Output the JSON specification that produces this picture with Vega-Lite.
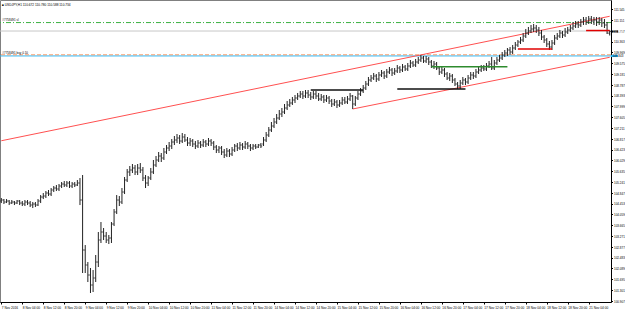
{
"$schema":"https://vega.github.io/schema/vega-lite/v6.json",
"width":611,"height":302,
"autosize":{"type":"none"},
"padding":{"left":0,"top":0,"right":14,"bottom":7},
"background":"white",
"config":{"view":{"stroke":"#808080","strokeWidth":1},"font":"Liberation Sans"},
"title":{"text":"■ USDJPY,H1  110.672 110.780 110.588 110.734","anchor":"start","frame":"group","orient":"top","offset":-6,"fontSize":3.2,"fontWeight":"normal","color":"#000","font":"Liberation Sans","dx":2},
"datasets":{
"bars":[
{"t":"7 Nov 20:00","o":104.547,"h":104.657,"l":104.474,"c":104.584},
{"t":"7 Nov 21:00","o":104.584,"h":104.620,"l":104.438,"c":104.511},
{"t":"7 Nov 22:00","o":104.511,"h":104.620,"l":104.474,"c":104.547},
{"t":"7 Nov 23:00","o":104.547,"h":104.584,"l":104.401,"c":104.474},
{"t":"8 Nov 00:00","o":104.474,"h":104.584,"l":104.438,"c":104.511},
{"t":"8 Nov 01:00","o":104.511,"h":104.547,"l":104.401,"c":104.474},
{"t":"8 Nov 02:00","o":104.474,"h":104.584,"l":104.438,"c":104.547},
{"t":"8 Nov 03:00","o":104.547,"h":104.584,"l":104.401,"c":104.474},
{"t":"8 Nov 04:00","o":104.474,"h":104.547,"l":104.365,"c":104.438},
{"t":"8 Nov 05:00","o":104.438,"h":104.584,"l":104.365,"c":104.511},
{"t":"8 Nov 06:00","o":104.511,"h":104.584,"l":104.401,"c":104.474},
{"t":"8 Nov 07:00","o":104.474,"h":104.547,"l":104.328,"c":104.401},
{"t":"8 Nov 08:00","o":104.401,"h":104.511,"l":104.292,"c":104.438},
{"t":"8 Nov 09:00","o":104.438,"h":104.511,"l":104.328,"c":104.401},
{"t":"8 Nov 10:00","o":104.401,"h":104.620,"l":104.365,"c":104.547},
{"t":"8 Nov 11:00","o":104.547,"h":104.766,"l":104.474,"c":104.693},
{"t":"8 Nov 12:00","o":104.693,"h":104.839,"l":104.620,"c":104.730},
{"t":"8 Nov 13:00","o":104.730,"h":104.912,"l":104.657,"c":104.839},
{"t":"8 Nov 14:00","o":104.839,"h":104.949,"l":104.730,"c":104.803},
{"t":"8 Nov 15:00","o":104.803,"h":105.022,"l":104.730,"c":104.949},
{"t":"8 Nov 16:00","o":104.949,"h":105.095,"l":104.876,"c":105.022},
{"t":"8 Nov 17:00","o":105.022,"h":105.131,"l":104.912,"c":104.985},
{"t":"8 Nov 18:00","o":104.985,"h":105.168,"l":104.912,"c":105.095},
{"t":"8 Nov 19:00","o":105.095,"h":105.241,"l":105.022,"c":105.168},
{"t":"8 Nov 20:00","o":105.168,"h":105.277,"l":105.058,"c":105.131},
{"t":"8 Nov 21:00","o":105.131,"h":105.277,"l":105.058,"c":105.204},
{"t":"8 Nov 22:00","o":105.204,"h":105.277,"l":105.022,"c":105.095},
{"t":"8 Nov 23:00","o":105.095,"h":105.241,"l":105.022,"c":105.168},
{"t":"9 Nov 00:00","o":105.168,"h":105.241,"l":105.058,"c":105.131},
{"t":"9 Nov 01:00","o":105.131,"h":105.314,"l":105.095,"c":105.204},
{"t":"9 Nov 02:00","o":105.204,"h":105.387,"l":104.401,"c":104.584},
{"t":"9 Nov 03:00","o":104.584,"h":105.496,"l":101.920,"c":102.759},
{"t":"9 Nov 04:00","o":102.759,"h":102.941,"l":101.920,"c":102.212},
{"t":"9 Nov 05:00","o":102.212,"h":102.321,"l":101.591,"c":101.847},
{"t":"9 Nov 06:00","o":101.847,"h":102.102,"l":101.190,"c":101.482},
{"t":"9 Nov 07:00","o":101.482,"h":102.029,"l":101.226,"c":101.737},
{"t":"9 Nov 08:00","o":101.737,"h":102.577,"l":101.591,"c":102.321},
{"t":"9 Nov 09:00","o":102.321,"h":103.416,"l":102.139,"c":103.124},
{"t":"9 Nov 10:00","o":103.124,"h":103.781,"l":103.015,"c":103.416},
{"t":"9 Nov 11:00","o":103.416,"h":103.562,"l":103.124,"c":103.270},
{"t":"9 Nov 12:00","o":103.270,"h":103.416,"l":103.015,"c":103.124},
{"t":"9 Nov 13:00","o":103.124,"h":103.307,"l":102.978,"c":103.197},
{"t":"9 Nov 14:00","o":103.197,"h":103.781,"l":103.015,"c":103.708},
{"t":"9 Nov 15:00","o":103.708,"h":104.255,"l":103.635,"c":104.146},
{"t":"9 Nov 16:00","o":104.146,"h":104.766,"l":104.073,"c":104.584},
{"t":"9 Nov 17:00","o":104.584,"h":104.730,"l":104.365,"c":104.511},
{"t":"9 Nov 18:00","o":104.511,"h":105.022,"l":104.438,"c":104.876},
{"t":"9 Nov 19:00","o":104.876,"h":105.423,"l":104.803,"c":105.314},
{"t":"9 Nov 20:00","o":105.314,"h":105.715,"l":105.241,"c":105.606},
{"t":"9 Nov 21:00","o":105.606,"h":105.825,"l":105.460,"c":105.679},
{"t":"9 Nov 22:00","o":105.679,"h":105.898,"l":105.569,"c":105.752},
{"t":"9 Nov 23:00","o":105.752,"h":105.861,"l":105.496,"c":105.606},
{"t":"10 Nov 00:00","o":105.606,"h":105.898,"l":105.496,"c":105.752},
{"t":"10 Nov 01:00","o":105.752,"h":105.934,"l":105.569,"c":105.679},
{"t":"10 Nov 02:00","o":105.679,"h":105.788,"l":105.277,"c":105.387},
{"t":"10 Nov 03:00","o":105.387,"h":105.496,"l":105.022,"c":105.204},
{"t":"10 Nov 04:00","o":105.204,"h":105.460,"l":105.095,"c":105.387},
{"t":"10 Nov 05:00","o":105.387,"h":105.752,"l":105.314,"c":105.606},
{"t":"10 Nov 06:00","o":105.606,"h":106.044,"l":105.533,"c":105.861},
{"t":"10 Nov 07:00","o":105.861,"h":106.190,"l":105.788,"c":106.044},
{"t":"10 Nov 08:00","o":106.044,"h":106.336,"l":105.971,"c":106.190},
{"t":"10 Nov 09:00","o":106.190,"h":106.299,"l":105.971,"c":106.117},
{"t":"10 Nov 10:00","o":106.117,"h":106.482,"l":106.044,"c":106.336},
{"t":"10 Nov 11:00","o":106.336,"h":106.591,"l":106.263,"c":106.482},
{"t":"10 Nov 12:00","o":106.482,"h":106.701,"l":106.372,"c":106.555},
{"t":"10 Nov 13:00","o":106.555,"h":106.810,"l":106.445,"c":106.701},
{"t":"10 Nov 14:00","o":106.701,"h":106.920,"l":106.591,"c":106.774},
{"t":"10 Nov 15:00","o":106.774,"h":106.993,"l":106.664,"c":106.847},
{"t":"10 Nov 16:00","o":106.847,"h":106.956,"l":106.628,"c":106.737},
{"t":"10 Nov 17:00","o":106.737,"h":107.029,"l":106.664,"c":106.883},
{"t":"10 Nov 18:00","o":106.883,"h":106.993,"l":106.701,"c":106.774},
{"t":"10 Nov 19:00","o":106.774,"h":106.883,"l":106.555,"c":106.664},
{"t":"10 Nov 20:00","o":106.664,"h":106.847,"l":106.555,"c":106.737},
{"t":"10 Nov 21:00","o":106.737,"h":106.810,"l":106.518,"c":106.628},
{"t":"10 Nov 22:00","o":106.628,"h":106.737,"l":106.445,"c":106.555},
{"t":"10 Nov 23:00","o":106.555,"h":106.774,"l":106.482,"c":106.664},
{"t":"11 Nov 00:00","o":106.664,"h":106.737,"l":106.482,"c":106.591},
{"t":"11 Nov 01:00","o":106.591,"h":106.810,"l":106.518,"c":106.701},
{"t":"11 Nov 02:00","o":106.701,"h":106.774,"l":106.518,"c":106.628},
{"t":"11 Nov 03:00","o":106.628,"h":106.847,"l":106.555,"c":106.737},
{"t":"11 Nov 04:00","o":106.737,"h":106.810,"l":106.555,"c":106.664},
{"t":"11 Nov 05:00","o":106.664,"h":106.737,"l":106.409,"c":106.518},
{"t":"11 Nov 06:00","o":106.518,"h":106.591,"l":106.299,"c":106.409},
{"t":"11 Nov 07:00","o":106.409,"h":106.555,"l":106.299,"c":106.482},
{"t":"11 Nov 08:00","o":106.482,"h":106.555,"l":106.226,"c":106.336},
{"t":"11 Nov 09:00","o":106.336,"h":106.445,"l":106.117,"c":106.226},
{"t":"11 Nov 10:00","o":106.226,"h":106.482,"l":106.153,"c":106.372},
{"t":"11 Nov 11:00","o":106.372,"h":106.445,"l":106.153,"c":106.263},
{"t":"11 Nov 12:00","o":106.263,"h":106.518,"l":106.190,"c":106.409},
{"t":"11 Nov 13:00","o":106.409,"h":106.628,"l":106.336,"c":106.555},
{"t":"11 Nov 14:00","o":106.555,"h":106.664,"l":106.372,"c":106.482},
{"t":"11 Nov 15:00","o":106.482,"h":106.701,"l":106.409,"c":106.591},
{"t":"11 Nov 16:00","o":106.591,"h":106.664,"l":106.409,"c":106.518},
{"t":"11 Nov 17:00","o":106.518,"h":106.737,"l":106.445,"c":106.628},
{"t":"11 Nov 18:00","o":106.628,"h":106.701,"l":106.445,"c":106.555},
{"t":"11 Nov 19:00","o":106.555,"h":106.628,"l":106.372,"c":106.482},
{"t":"11 Nov 20:00","o":106.482,"h":106.628,"l":106.409,"c":106.555},
{"t":"11 Nov 21:00","o":106.555,"h":106.628,"l":106.445,"c":106.518},
{"t":"11 Nov 22:00","o":106.518,"h":106.628,"l":106.482,"c":106.591},
{"t":"11 Nov 23:00","o":106.591,"h":106.664,"l":106.482,"c":106.555},
{"t":"14 Nov 00:00","o":106.628,"h":106.883,"l":106.555,"c":106.774},
{"t":"14 Nov 01:00","o":106.774,"h":107.066,"l":106.701,"c":106.956},
{"t":"14 Nov 02:00","o":106.956,"h":107.248,"l":106.883,"c":107.139},
{"t":"14 Nov 03:00","o":107.139,"h":107.431,"l":107.066,"c":107.285},
{"t":"14 Nov 04:00","o":107.285,"h":107.577,"l":107.212,"c":107.431},
{"t":"14 Nov 05:00","o":107.431,"h":107.723,"l":107.358,"c":107.577},
{"t":"14 Nov 06:00","o":107.577,"h":107.869,"l":107.504,"c":107.723},
{"t":"14 Nov 07:00","o":107.723,"h":107.942,"l":107.613,"c":107.796},
{"t":"14 Nov 08:00","o":107.796,"h":108.088,"l":107.723,"c":107.942},
{"t":"14 Nov 09:00","o":107.942,"h":108.198,"l":107.869,"c":108.052},
{"t":"14 Nov 10:00","o":108.052,"h":108.271,"l":107.979,"c":108.125},
{"t":"14 Nov 11:00","o":108.125,"h":108.344,"l":108.052,"c":108.234},
{"t":"14 Nov 12:00","o":108.234,"h":108.417,"l":108.125,"c":108.307},
{"t":"14 Nov 13:00","o":108.307,"h":108.490,"l":108.234,"c":108.380},
{"t":"14 Nov 14:00","o":108.380,"h":108.563,"l":108.307,"c":108.453},
{"t":"14 Nov 15:00","o":108.453,"h":108.563,"l":108.271,"c":108.380},
{"t":"14 Nov 16:00","o":108.380,"h":108.599,"l":108.307,"c":108.490},
{"t":"14 Nov 17:00","o":108.490,"h":108.599,"l":108.307,"c":108.417},
{"t":"14 Nov 18:00","o":108.417,"h":108.526,"l":108.234,"c":108.344},
{"t":"14 Nov 19:00","o":108.344,"h":108.563,"l":108.271,"c":108.453},
{"t":"14 Nov 20:00","o":108.453,"h":108.563,"l":108.271,"c":108.380},
{"t":"14 Nov 21:00","o":108.380,"h":108.490,"l":108.198,"c":108.271},
{"t":"14 Nov 22:00","o":108.271,"h":108.453,"l":108.198,"c":108.344},
{"t":"14 Nov 23:00","o":108.344,"h":108.417,"l":108.125,"c":108.234},
{"t":"15 Nov 00:00","o":108.234,"h":108.417,"l":108.161,"c":108.307},
{"t":"15 Nov 01:00","o":108.307,"h":108.380,"l":108.088,"c":108.198},
{"t":"15 Nov 02:00","o":108.198,"h":108.271,"l":107.979,"c":108.088},
{"t":"15 Nov 03:00","o":108.088,"h":108.271,"l":108.015,"c":108.161},
{"t":"15 Nov 04:00","o":108.161,"h":108.234,"l":107.942,"c":108.052},
{"t":"15 Nov 05:00","o":108.052,"h":108.234,"l":107.979,"c":108.125},
{"t":"15 Nov 06:00","o":108.125,"h":108.344,"l":108.052,"c":108.234},
{"t":"15 Nov 07:00","o":108.234,"h":108.344,"l":108.088,"c":108.161},
{"t":"15 Nov 08:00","o":108.161,"h":108.380,"l":108.088,"c":108.271},
{"t":"15 Nov 09:00","o":108.271,"h":108.490,"l":108.198,"c":108.380},
{"t":"15 Nov 10:00","o":108.380,"h":108.417,"l":107.906,"c":108.088},
{"t":"15 Nov 11:00","o":108.088,"h":108.380,"l":108.015,"c":108.307},
{"t":"15 Nov 12:00","o":108.307,"h":108.563,"l":108.234,"c":108.453},
{"t":"15 Nov 13:00","o":108.453,"h":108.672,"l":108.380,"c":108.563},
{"t":"15 Nov 14:00","o":108.563,"h":108.782,"l":108.490,"c":108.672},
{"t":"15 Nov 15:00","o":108.672,"h":108.928,"l":108.599,"c":108.818},
{"t":"15 Nov 16:00","o":108.818,"h":109.074,"l":108.745,"c":108.964},
{"t":"15 Nov 17:00","o":108.964,"h":109.147,"l":108.891,"c":109.037},
{"t":"15 Nov 18:00","o":109.037,"h":109.220,"l":108.964,"c":109.110},
{"t":"15 Nov 19:00","o":109.110,"h":109.183,"l":108.891,"c":109.001},
{"t":"15 Nov 20:00","o":109.001,"h":109.256,"l":108.928,"c":109.147},
{"t":"15 Nov 21:00","o":109.147,"h":109.329,"l":109.074,"c":109.220},
{"t":"15 Nov 22:00","o":109.220,"h":109.293,"l":109.001,"c":109.110},
{"t":"15 Nov 23:00","o":109.110,"h":109.366,"l":109.037,"c":109.256},
{"t":"16 Nov 00:00","o":109.256,"h":109.439,"l":109.183,"c":109.329},
{"t":"16 Nov 01:00","o":109.329,"h":109.402,"l":109.110,"c":109.220},
{"t":"16 Nov 02:00","o":109.220,"h":109.402,"l":109.147,"c":109.293},
{"t":"16 Nov 03:00","o":109.293,"h":109.512,"l":109.220,"c":109.402},
{"t":"16 Nov 04:00","o":109.402,"h":109.475,"l":109.220,"c":109.329},
{"t":"16 Nov 05:00","o":109.329,"h":109.548,"l":109.256,"c":109.439},
{"t":"16 Nov 06:00","o":109.439,"h":109.512,"l":109.293,"c":109.366},
{"t":"16 Nov 07:00","o":109.366,"h":109.585,"l":109.293,"c":109.475},
{"t":"16 Nov 08:00","o":109.475,"h":109.694,"l":109.402,"c":109.585},
{"t":"16 Nov 09:00","o":109.585,"h":109.658,"l":109.439,"c":109.512},
{"t":"16 Nov 10:00","o":109.512,"h":109.731,"l":109.439,"c":109.621},
{"t":"16 Nov 11:00","o":109.621,"h":109.804,"l":109.548,"c":109.694},
{"t":"16 Nov 12:00","o":109.694,"h":109.877,"l":109.621,"c":109.767},
{"t":"16 Nov 13:00","o":109.767,"h":109.840,"l":109.585,"c":109.658},
{"t":"16 Nov 14:00","o":109.658,"h":109.840,"l":109.585,"c":109.731},
{"t":"16 Nov 15:00","o":109.731,"h":109.804,"l":109.512,"c":109.621},
{"t":"16 Nov 16:00","o":109.621,"h":109.694,"l":109.402,"c":109.475},
{"t":"16 Nov 17:00","o":109.475,"h":109.658,"l":109.366,"c":109.548},
{"t":"16 Nov 18:00","o":109.548,"h":109.621,"l":109.329,"c":109.402},
{"t":"16 Nov 19:00","o":109.402,"h":109.475,"l":109.147,"c":109.256},
{"t":"16 Nov 20:00","o":109.256,"h":109.439,"l":109.183,"c":109.329},
{"t":"16 Nov 21:00","o":109.329,"h":109.402,"l":109.074,"c":109.183},
{"t":"16 Nov 22:00","o":109.183,"h":109.256,"l":108.964,"c":109.037},
{"t":"16 Nov 23:00","o":109.037,"h":109.220,"l":108.928,"c":109.110},
{"t":"17 Nov 00:00","o":109.110,"h":109.183,"l":108.855,"c":108.964},
{"t":"17 Nov 01:00","o":108.964,"h":109.037,"l":108.745,"c":108.818},
{"t":"17 Nov 02:00","o":108.818,"h":108.891,"l":108.636,"c":108.745},
{"t":"17 Nov 03:00","o":108.745,"h":108.964,"l":108.636,"c":108.855},
{"t":"17 Nov 04:00","o":108.855,"h":109.074,"l":108.782,"c":108.964},
{"t":"17 Nov 05:00","o":108.964,"h":109.037,"l":108.782,"c":108.891},
{"t":"17 Nov 06:00","o":108.891,"h":109.147,"l":108.818,"c":109.037},
{"t":"17 Nov 07:00","o":109.037,"h":109.256,"l":108.964,"c":109.147},
{"t":"17 Nov 08:00","o":109.147,"h":109.256,"l":109.001,"c":109.110},
{"t":"17 Nov 09:00","o":109.110,"h":109.366,"l":109.037,"c":109.256},
{"t":"17 Nov 10:00","o":109.256,"h":109.439,"l":109.183,"c":109.329},
{"t":"17 Nov 11:00","o":109.329,"h":109.512,"l":109.256,"c":109.402},
{"t":"17 Nov 12:00","o":109.402,"h":109.512,"l":109.293,"c":109.366},
{"t":"17 Nov 13:00","o":109.366,"h":109.585,"l":109.293,"c":109.475},
{"t":"17 Nov 14:00","o":109.475,"h":109.658,"l":109.402,"c":109.548},
{"t":"17 Nov 15:00","o":109.548,"h":109.804,"l":109.329,"c":109.402},
{"t":"17 Nov 16:00","o":109.402,"h":109.694,"l":109.329,"c":109.585},
{"t":"17 Nov 17:00","o":109.585,"h":109.804,"l":109.512,"c":109.694},
{"t":"17 Nov 18:00","o":109.694,"h":109.877,"l":109.621,"c":109.767},
{"t":"17 Nov 19:00","o":109.767,"h":109.986,"l":109.694,"c":109.877},
{"t":"17 Nov 20:00","o":109.877,"h":110.059,"l":109.804,"c":109.950},
{"t":"17 Nov 21:00","o":109.950,"h":110.132,"l":109.840,"c":110.059},
{"t":"17 Nov 22:00","o":110.059,"h":110.169,"l":109.877,"c":109.986},
{"t":"17 Nov 23:00","o":109.986,"h":110.242,"l":109.913,"c":110.132},
{"t":"18 Nov 00:00","o":110.132,"h":110.351,"l":110.059,"c":110.242},
{"t":"18 Nov 01:00","o":110.242,"h":110.424,"l":110.169,"c":110.351},
{"t":"18 Nov 02:00","o":110.351,"h":110.534,"l":110.278,"c":110.424},
{"t":"18 Nov 03:00","o":110.424,"h":110.680,"l":110.351,"c":110.570},
{"t":"18 Nov 04:00","o":110.570,"h":110.826,"l":110.497,"c":110.680},
{"t":"18 Nov 05:00","o":110.680,"h":110.899,"l":110.607,"c":110.753},
{"t":"18 Nov 06:00","o":110.753,"h":110.972,"l":110.680,"c":110.826},
{"t":"18 Nov 07:00","o":110.826,"h":111.008,"l":110.716,"c":110.862},
{"t":"18 Nov 08:00","o":110.862,"h":110.972,"l":110.680,"c":110.789},
{"t":"18 Nov 09:00","o":110.789,"h":110.899,"l":110.570,"c":110.680},
{"t":"18 Nov 10:00","o":110.680,"h":110.789,"l":110.424,"c":110.534},
{"t":"18 Nov 11:00","o":110.534,"h":110.607,"l":110.315,"c":110.424},
{"t":"18 Nov 12:00","o":110.424,"h":110.497,"l":110.169,"c":110.278},
{"t":"18 Nov 13:00","o":110.278,"h":110.388,"l":110.059,"c":110.169},
{"t":"18 Nov 14:00","o":110.169,"h":110.424,"l":110.059,"c":110.315},
{"t":"18 Nov 15:00","o":110.315,"h":110.607,"l":110.242,"c":110.497},
{"t":"18 Nov 16:00","o":110.497,"h":110.680,"l":110.424,"c":110.570},
{"t":"18 Nov 17:00","o":110.570,"h":110.789,"l":110.497,"c":110.680},
{"t":"18 Nov 18:00","o":110.680,"h":110.753,"l":110.497,"c":110.607},
{"t":"18 Nov 19:00","o":110.607,"h":110.862,"l":110.534,"c":110.716},
{"t":"18 Nov 20:00","o":110.716,"h":110.899,"l":110.643,"c":110.789},
{"t":"18 Nov 21:00","o":110.789,"h":110.972,"l":110.716,"c":110.862},
{"t":"18 Nov 22:00","o":110.862,"h":111.081,"l":110.789,"c":110.935},
{"t":"18 Nov 23:00","o":110.935,"h":111.118,"l":110.862,"c":111.008},
{"t":"21 Nov 00:00","o":111.008,"h":111.118,"l":110.862,"c":110.972},
{"t":"21 Nov 01:00","o":110.972,"h":111.191,"l":110.899,"c":111.081},
{"t":"21 Nov 02:00","o":111.081,"h":111.264,"l":110.972,"c":111.154},
{"t":"21 Nov 03:00","o":111.154,"h":111.264,"l":110.972,"c":111.081},
{"t":"21 Nov 04:00","o":111.081,"h":111.300,"l":111.008,"c":111.191},
{"t":"21 Nov 05:00","o":111.191,"h":111.300,"l":111.008,"c":111.118},
{"t":"21 Nov 06:00","o":111.118,"h":111.264,"l":110.972,"c":111.154},
{"t":"21 Nov 07:00","o":111.154,"h":111.264,"l":110.935,"c":111.081},
{"t":"21 Nov 08:00","o":111.081,"h":111.264,"l":110.972,"c":111.154},
{"t":"21 Nov 09:00","o":111.154,"h":111.227,"l":110.899,"c":111.045},
{"t":"21 Nov 10:00","o":111.045,"h":111.191,"l":110.862,"c":110.972},
{"t":"21 Nov 11:00","o":110.972,"h":111.081,"l":110.643,"c":110.680},
{"t":"21 Nov 12:00","o":110.672,"h":110.780,"l":110.588,"c":110.734}
],
"trend":[
{"t1":"7 Nov 20:00","p1":106.747,"t2":"21 Nov 12:00","p2":111.29},
{"t1":"15 Nov 10:00","p1":107.906,"t2":"21 Nov 12:00","p2":109.793}
],
"blackseg":[
{"t1":"14 Nov 18:00","t2":"15 Nov 14:00","p":108.599},
{"t1":"16 Nov 03:00","t2":"17 Nov 05:00","p":108.636}
],
"redseg":[
{"t1":"18 Nov 01:00","t2":"18 Nov 14:00","p":110.096},
{"t1":"21 Nov 03:00","t2":"21 Nov 12:00","p":110.77}
],
"greenseg":[
{"t1":"16 Nov 16:00","t2":"17 Nov 21:00","p":109.45}
],
"orders":[
{"p":111.06,"lab":"#7758491 sl"},
{"p":109.885,"lab":"#7758491 buy 0.10"}
]
},
"encoding":{
"x":{"field":"t","type":"ordinal","sort":null,
"scale":{"type":"point","padding":0.5,"domain":["7 Nov 20:00","7 Nov 21:00","7 Nov 22:00","7 Nov 23:00",
"8 Nov 00:00","8 Nov 01:00","8 Nov 02:00","8 Nov 03:00","8 Nov 04:00","8 Nov 05:00","8 Nov 06:00","8 Nov 07:00","8 Nov 08:00","8 Nov 09:00","8 Nov 10:00","8 Nov 11:00","8 Nov 12:00","8 Nov 13:00","8 Nov 14:00","8 Nov 15:00","8 Nov 16:00","8 Nov 17:00","8 Nov 18:00","8 Nov 19:00","8 Nov 20:00","8 Nov 21:00","8 Nov 22:00","8 Nov 23:00",
"9 Nov 00:00","9 Nov 01:00","9 Nov 02:00","9 Nov 03:00","9 Nov 04:00","9 Nov 05:00","9 Nov 06:00","9 Nov 07:00","9 Nov 08:00","9 Nov 09:00","9 Nov 10:00","9 Nov 11:00","9 Nov 12:00","9 Nov 13:00","9 Nov 14:00","9 Nov 15:00","9 Nov 16:00","9 Nov 17:00","9 Nov 18:00","9 Nov 19:00","9 Nov 20:00","9 Nov 21:00","9 Nov 22:00","9 Nov 23:00",
"10 Nov 00:00","10 Nov 01:00","10 Nov 02:00","10 Nov 03:00","10 Nov 04:00","10 Nov 05:00","10 Nov 06:00","10 Nov 07:00","10 Nov 08:00","10 Nov 09:00","10 Nov 10:00","10 Nov 11:00","10 Nov 12:00","10 Nov 13:00","10 Nov 14:00","10 Nov 15:00","10 Nov 16:00","10 Nov 17:00","10 Nov 18:00","10 Nov 19:00","10 Nov 20:00","10 Nov 21:00","10 Nov 22:00","10 Nov 23:00",
"11 Nov 00:00","11 Nov 01:00","11 Nov 02:00","11 Nov 03:00","11 Nov 04:00","11 Nov 05:00","11 Nov 06:00","11 Nov 07:00","11 Nov 08:00","11 Nov 09:00","11 Nov 10:00","11 Nov 11:00","11 Nov 12:00","11 Nov 13:00","11 Nov 14:00","11 Nov 15:00","11 Nov 16:00","11 Nov 17:00","11 Nov 18:00","11 Nov 19:00","11 Nov 20:00","11 Nov 21:00","11 Nov 22:00","11 Nov 23:00",
"14 Nov 00:00","14 Nov 01:00","14 Nov 02:00","14 Nov 03:00","14 Nov 04:00","14 Nov 05:00","14 Nov 06:00","14 Nov 07:00","14 Nov 08:00","14 Nov 09:00","14 Nov 10:00","14 Nov 11:00","14 Nov 12:00","14 Nov 13:00","14 Nov 14:00","14 Nov 15:00","14 Nov 16:00","14 Nov 17:00","14 Nov 18:00","14 Nov 19:00","14 Nov 20:00","14 Nov 21:00","14 Nov 22:00","14 Nov 23:00",
"15 Nov 00:00","15 Nov 01:00","15 Nov 02:00","15 Nov 03:00","15 Nov 04:00","15 Nov 05:00","15 Nov 06:00","15 Nov 07:00","15 Nov 08:00","15 Nov 09:00","15 Nov 10:00","15 Nov 11:00","15 Nov 12:00","15 Nov 13:00","15 Nov 14:00","15 Nov 15:00","15 Nov 16:00","15 Nov 17:00","15 Nov 18:00","15 Nov 19:00","15 Nov 20:00","15 Nov 21:00","15 Nov 22:00","15 Nov 23:00",
"16 Nov 00:00","16 Nov 01:00","16 Nov 02:00","16 Nov 03:00","16 Nov 04:00","16 Nov 05:00","16 Nov 06:00","16 Nov 07:00","16 Nov 08:00","16 Nov 09:00","16 Nov 10:00","16 Nov 11:00","16 Nov 12:00","16 Nov 13:00","16 Nov 14:00","16 Nov 15:00","16 Nov 16:00","16 Nov 17:00","16 Nov 18:00","16 Nov 19:00","16 Nov 20:00","16 Nov 21:00","16 Nov 22:00","16 Nov 23:00",
"17 Nov 00:00","17 Nov 01:00","17 Nov 02:00","17 Nov 03:00","17 Nov 04:00","17 Nov 05:00","17 Nov 06:00","17 Nov 07:00","17 Nov 08:00","17 Nov 09:00","17 Nov 10:00","17 Nov 11:00","17 Nov 12:00","17 Nov 13:00","17 Nov 14:00","17 Nov 15:00","17 Nov 16:00","17 Nov 17:00","17 Nov 18:00","17 Nov 19:00","17 Nov 20:00","17 Nov 21:00","17 Nov 22:00","17 Nov 23:00",
"18 Nov 00:00","18 Nov 01:00","18 Nov 02:00","18 Nov 03:00","18 Nov 04:00","18 Nov 05:00","18 Nov 06:00","18 Nov 07:00","18 Nov 08:00","18 Nov 09:00","18 Nov 10:00","18 Nov 11:00","18 Nov 12:00","18 Nov 13:00","18 Nov 14:00","18 Nov 15:00","18 Nov 16:00","18 Nov 17:00","18 Nov 18:00","18 Nov 19:00","18 Nov 20:00","18 Nov 21:00","18 Nov 22:00","18 Nov 23:00",
"21 Nov 00:00","21 Nov 01:00","21 Nov 02:00","21 Nov 03:00","21 Nov 04:00","21 Nov 05:00","21 Nov 06:00","21 Nov 07:00","21 Nov 08:00","21 Nov 09:00","21 Nov 10:00","21 Nov 11:00","21 Nov 12:00"]},
"axis":{"orient":"bottom","title":null,"grid":false,"labelOverlap":false,"labelFlush":false,"labelBound":false,
"values":["7 Nov 20:00","8 Nov 04:00","8 Nov 12:00","8 Nov 20:00","9 Nov 04:00","9 Nov 12:00","9 Nov 20:00","10 Nov 04:00","10 Nov 12:00","10 Nov 20:00","11 Nov 04:00","11 Nov 12:00","11 Nov 20:00","14 Nov 04:00","14 Nov 12:00","14 Nov 20:00","15 Nov 04:00","15 Nov 12:00","15 Nov 20:00","16 Nov 04:00","16 Nov 12:00","16 Nov 20:00","17 Nov 04:00","17 Nov 12:00","17 Nov 20:00","18 Nov 04:00","18 Nov 12:00","18 Nov 20:00","21 Nov 04:00"],
"labelExpr":"datum.value == '7 Nov 20:00' ? '7 Nov 2016' : datum.value",
"labelFontSize":3.2,"labelAlign":"left","labelBaseline":"top","labelPadding":1.5,"labelAngle":0,
"tickSize":2,"tickColor":"#000","domainColor":"#000","labelColor":"#000","labelFont":"Liberation Sans"}},
"y":{"type":"quantitative","scale":{"domain":[100.862,111.884],"nice":false,"zero":false},
"axis":{"orient":"right","title":null,"grid":false,"format":".3f","labelOverlap":false,"labelFlush":false,"labelBound":false,
"values":[111.545,111.151,110.757,110.363,109.969,109.575,109.181,108.787,108.393,107.999,107.605,107.211,106.817,106.423,106.029,105.635,105.241,104.847,104.453,104.059,103.665,103.271,102.877,102.483,102.089,101.695,101.301,100.907],
"labelFontSize":3,"labelPadding":1,"tickSize":1.5,"tickColor":"#000","domainColor":"#000","labelColor":"#000","labelFont":"Liberation Sans"}}
},
"layer":[
{"data":{"values":[{"p":110.752}]},"mark":{"type":"rule","color":"#c8c8c8","strokeWidth":1},"encoding":{"x":null,"y":{"field":"p","type":"quantitative"}}},
{"data":{"values":[{"p":111.06}]},"mark":{"type":"rule","color":"#3cb043","strokeWidth":1,"strokeDash":[5,2,1,2]},"encoding":{"x":null,"y":{"field":"p","type":"quantitative"}}},
{"data":{"values":[{"p":109.843}]},"mark":{"type":"rule","color":"#29b6f6","strokeWidth":1},"encoding":{"x":null,"y":{"field":"p","type":"quantitative"}}},
{"data":{"values":[{"p":109.885}]},"mark":{"type":"rule","color":"#f4a070","strokeWidth":1,"strokeDash":[4,2]},"encoding":{"x":null,"y":{"field":"p","type":"quantitative"}}},
{"data":{"name":"trend"},"mark":{"type":"rule","color":"#ff5050","strokeWidth":1},
 "encoding":{"x":{"field":"t1","type":"ordinal"},"x2":{"field":"t2"},"y":{"field":"p1","type":"quantitative"},"y2":{"field":"p2"}}},
{"data":{"name":"bars"},"mark":{"type":"rule","color":"#222","strokeWidth":1},
 "encoding":{"y":{"field":"l"},"y2":{"field":"h"}}},
{"data":{"name":"bars"},"mark":{"type":"tick","orient":"horizontal","size":1.3,"thickness":1,"xOffset":-0.7,"color":"#222"},
 "encoding":{"y":{"field":"o"}}},
{"data":{"name":"bars"},"mark":{"type":"tick","orient":"horizontal","size":1.3,"thickness":1,"xOffset":0.7,"color":"#222"},
 "encoding":{"y":{"field":"c"}}},
{"data":{"name":"blackseg"},"mark":{"type":"rule","color":"#111","strokeWidth":1.5},
 "encoding":{"x":{"field":"t1","type":"ordinal"},"x2":{"field":"t2"},"y":{"field":"p","type":"quantitative"}}},
{"data":{"name":"redseg"},"mark":{"type":"rule","color":"#e00000","strokeWidth":1.5},
 "encoding":{"x":{"field":"t1","type":"ordinal"},"x2":{"field":"t2"},"y":{"field":"p","type":"quantitative"}}},
{"data":{"name":"greenseg"},"mark":{"type":"rule","color":"#2e8b2e","strokeWidth":1.5},
 "encoding":{"x":{"field":"t1","type":"ordinal"},"x2":{"field":"t2"},"y":{"field":"p","type":"quantitative"}}},
{"data":{"name":"orders"},"mark":{"type":"text","align":"left","baseline":"bottom","dy":-0.5,"dx":1,"fontSize":3,"color":"#000"},
 "encoding":{"x":{"datum":"7 Nov 20:00"},"y":{"field":"p","type":"quantitative"},"text":{"field":"lab"}}},
{"data":{"values":[{"p":110.734,"lab":"110.734"}]},"mark":{"type":"point","shape":"M0,-0.16H1V0.16H0Z","size":196,"filled":true,"color":"#000","opacity":1},
 "encoding":{"x":{"value":"width"},"y":{"field":"p","type":"quantitative"}}},
{"data":{"values":[{"p":110.734,"lab":"110.734"}]},"mark":{"type":"text","align":"left","baseline":"middle","dx":1.5,"fontSize":3,"color":"#fff"},
 "encoding":{"x":{"value":"width"},"y":{"field":"p","type":"quantitative"},"text":{"field":"lab"}}},
{"data":{"values":[{"p":109.843,"lab":"109.843"}]},"mark":{"type":"point","shape":"M0,-0.16H1V0.16H0Z","size":196,"filled":true,"color":"#29b6f6","opacity":1},
 "encoding":{"x":{"value":"width"},"y":{"field":"p","type":"quantitative"}}},
{"data":{"values":[{"p":109.843,"lab":"109.843"}]},"mark":{"type":"text","align":"left","baseline":"middle","dx":1.5,"fontSize":3,"color":"#000"},
 "encoding":{"x":{"value":"width"},"y":{"field":"p","type":"quantitative"},"text":{"field":"lab"}}}
]
}
